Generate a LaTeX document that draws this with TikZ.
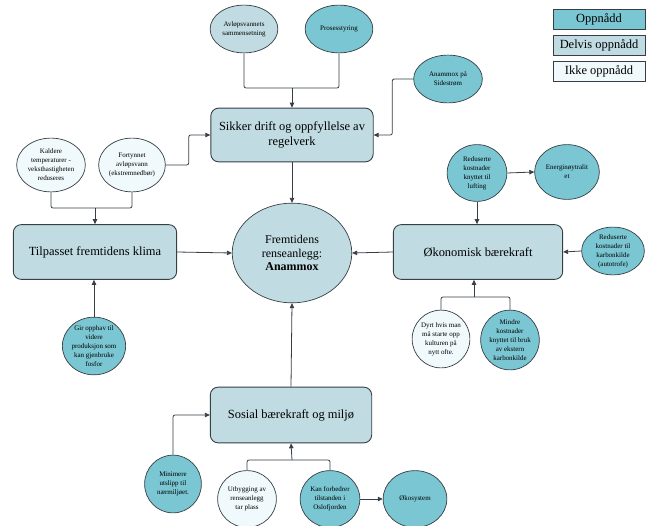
\documentclass[tikz,border=0pt]{standalone}
\usepackage{fontspec}
\setmainfont{Liberation Serif}
\usepackage{tikz}
\usetikzlibrary{arrows.meta,shapes.geometric}
\definecolor{anedge}{RGB}{55,62,68}
\definecolor{anok}{RGB}{122,198,210}
\definecolor{anpart}{RGB}{192,220,226}
\definecolor{anno}{RGB}{240,249,251}
\tikzset{
  anbox/.style={
    draw=anedge, line width=0.9pt, rounded corners=8pt, fill=anpart,
    align=center, inner sep=3pt, font=\fontsize{12.5}{15}\selectfont
  },
  cell/.style={
    ellipse, draw=anedge, line width=0.7pt, inner sep=0pt,
    align=center, font=\fontsize{7}{9}\selectfont
  },
  okc/.style={cell, fill=anok},
  partc/.style={cell, fill=anpart},
  nokc/.style={cell, fill=anno},
  leg/.style={
    draw=anedge, line width=0.6pt, inner sep=0pt,
    minimum width=92, minimum height=20, font=\fontsize{12.5}{15}\selectfont
  },
  ln/.style={draw=anedge, line width=0.8pt, rounded corners=2pt},
  arr/.style={ln, -{Triangle[length=5pt,width=4.5pt]}}
}
\begin{document}
\begin{tikzpicture}[x=1bp,y=-1bp]
  \useasboundingbox (0,0) rectangle (653,526);
  \node[leg, fill=anok] (lok) at (599,19) {Oppnådd};
  \node[leg, fill=anpart] (lpart) at (599,45) {Delvis oppnådd};
  \node[leg, fill=anno] (lno) at (599,71) {Ikke oppnådd};
  \node[anbox, minimum width=163, minimum height=54] (sikker) at (292,135) {Sikker drift og oppfyllelse av\\regelverk};
  \node[anbox, minimum width=164, minimum height=55] (tilp) at (95,252) {Tilpasset fremtidens klima};
  \node[anbox, minimum width=170, minimum height=55] (okon) at (478,252) {Økonomisk bærekraft};
  \node[anbox, minimum width=162, minimum height=56] (sosial) at (291,415) {Sosial bærekraft og miljø};
  \node[partc, minimum width=120, minimum height=100, font=\fontsize{12}{13.5}\selectfont] (ell) at (292,253) {Fremtidens\\renseanlegg:\\\textbf{Anammox}};
  \node[partc, minimum width=68, minimum height=48] (avl) at (244,29) {Avløpsvannets\\sammensetning};
  \node[okc, minimum width=68, minimum height=48] (pro) at (339,29) {Prosesstyring};
  \node[okc, minimum width=69, minimum height=48] (side) at (448,79) {Anammox på\\Sidestrøm};
  \node[nokc, minimum width=69, minimum height=54] (kald) at (51,165) {Kaldere\\temperaturer -\\veksthastigheten\\reduseres};
  \node[nokc, minimum width=67, minimum height=54] (fort) at (132,165) {Fortynnet\\avløpsvann\\(ekstremnedbør)};
  \node[okc, minimum width=60, minimum height=57] (redl) at (477,173) {Reduserte\\kostnader\\knyttet til\\lufting};
  \node[okc, minimum width=65, minimum height=55] (energi) at (567,172) {Energinøytralit\\et};
  \node[okc, minimum width=63, minimum height=48] (redk) at (613,251) {Reduserte\\kostnader til\\karbonkilde\\(autotrofe)};
  \node[nokc, minimum width=58, minimum height=58] (dyrt) at (441,339) {Dyrt hvis man\\må starte opp\\kulturen på\\nytt ofte.};
  \node[okc, minimum width=56, minimum height=60] (mindre) at (510,340) {Mindre\\kostnader\\knyttet til bruk\\av ekstern\\karbonkilde};
  \node[okc, minimum width=63, minimum height=57] (gir) at (94,346) {Gir opphav til\\videre\\produksjon som\\kan gjenbruke\\fosfor};
  \node[okc, minimum width=57, minimum height=58] (mini) at (173,484) {Minimere\\utslipp til\\nærmiljøet.};
  \node[nokc, minimum width=59, minimum height=57] (utb) at (247,499) {Utbygging av\\renseanlegg\\tar plass};
  \node[okc, minimum width=60, minimum height=57] (kan) at (330,499) {Kan forbedrer\\tilstanden i\\Oslofjorden};
  \node[okc, minimum width=64, minimum height=57] (oko) at (415,499) {Økosystem};
  \coordinate (jtop) at (292,88);
  \coordinate (jleft) at (95,208);
  \coordinate (jright) at (474,297);
  \coordinate (jbot) at (292,460);
  \draw[ln] (avl.south) |- (jtop);
  \draw[ln] (pro.south) |- (jtop);
  \draw[arr] (jtop) -- (sikker.north);
  \draw[arr] (side.west) -- ++(-21,0) |- (sikker.east);
  \draw[arr] (fort.east) -- ++(23,0) |- (sikker.west);
  \draw[ln] (kald.south) |- (jleft);
  \draw[ln] (fort.south) |- (jleft);
  \draw[arr] (jleft) -- (tilp.north);
  \draw[arr] (gir.north) -- (gir.north |- tilp.south);
  \draw[arr] (tilp.east) -- (ell.west);
  \draw[arr] (sikker.south) -- (ell.north);
  \draw[arr] (okon.west) -- (ell.east);
  \draw[arr] (sosial.north) -- (ell.south);
  \draw[arr] (redl.east) -- (energi.west);
  \draw[arr] (redl.south) -- (redl.south |- okon.north);
  \draw[arr] (redk.west) -- (okon.east);
  \draw[ln] (dyrt.north) |- (jright);
  \draw[ln] (mindre.north) |- (jright);
  \draw[arr] (jright) -- (jright |- okon.south);
  \draw[arr] (mini.north) |- (sosial.west);
  \draw[ln] (utb.north) |- (jbot);
  \draw[ln] (kan.north) |- (jbot);
  \draw[arr] (jbot) -- (sosial.south);
  \draw[arr] (kan.east) -- (oko.west);
\end{tikzpicture}
\end{document}
